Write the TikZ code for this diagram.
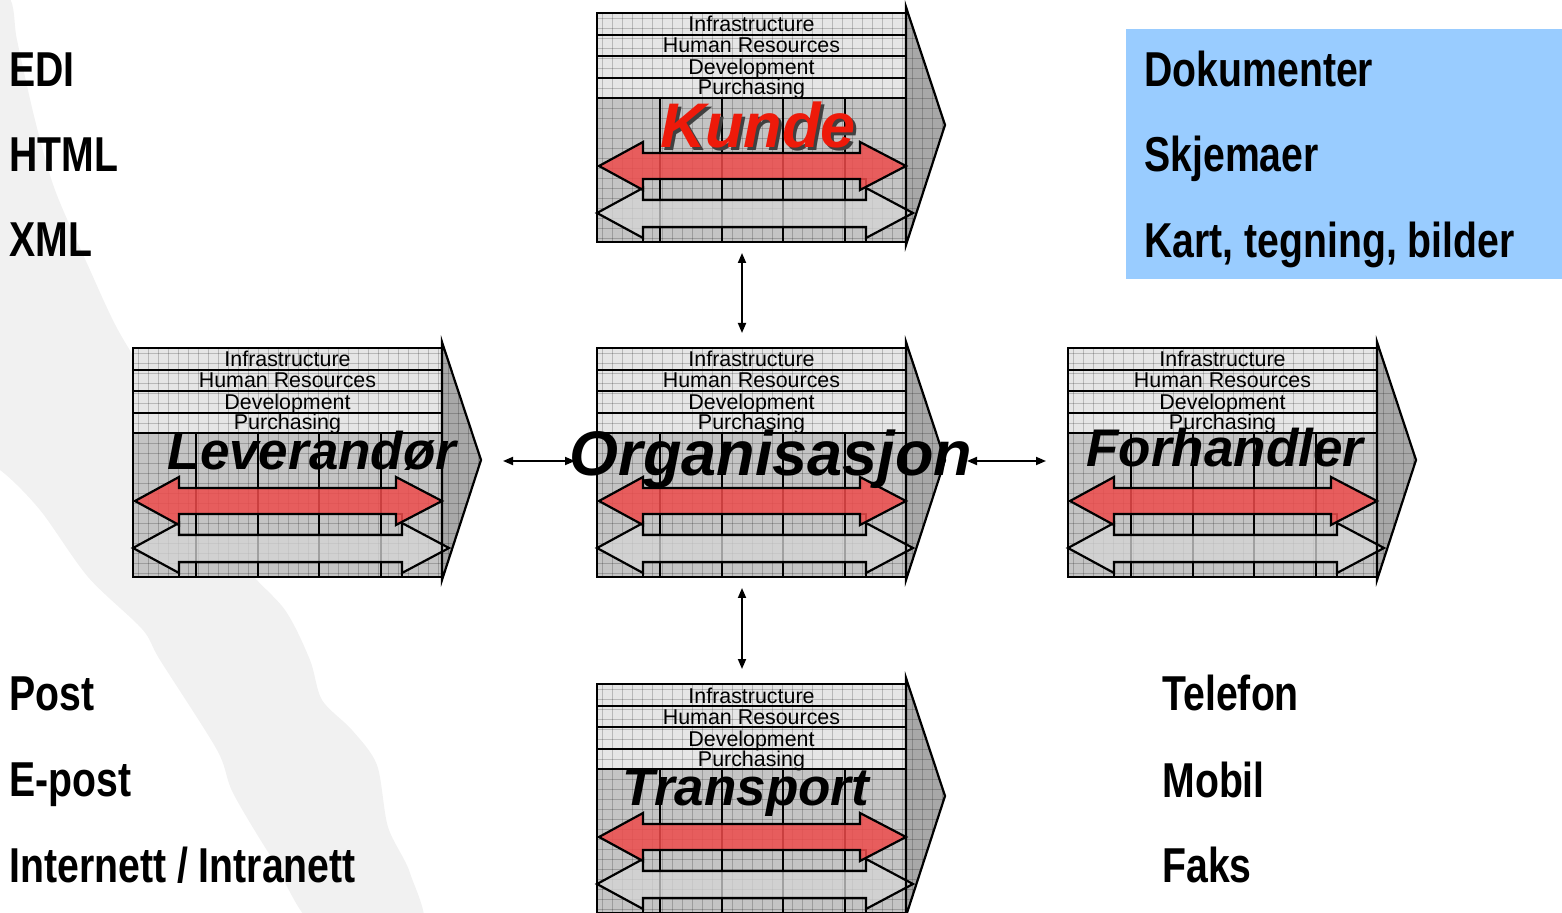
\documentclass[tikz,border=0pt]{standalone}
\usepackage{fontspec}
\setmainfont{Liberation Sans}
\newfontfamily\narrowfont[FakeStretch=0.8]{Liberation Sans}
\usetikzlibrary{arrows.meta}

\definecolor{blobgrey}{HTML}{F1F1F1}
\definecolor{rowgrey}{HTML}{E6E6E6}
\definecolor{bodygrey}{HTML}{C4C4C4}
\definecolor{chevgrey}{HTML}{A8A8A8}
\definecolor{arrowred}{HTML}{EE4B4B}
\definecolor{arrowgrey}{HTML}{D6D6D6}
\definecolor{boxblue}{HTML}{99CCFF}
\definecolor{titlered}{HTML}{EE1A0A}

% one value chain block, #1 name, (#2,#3) top left corner
\newcommand{\valuechain}[3]{%
	\begin{scope}[shift={(#2,#3)}]
		\fill[chevgrey] (309,-6) -- (348,112) -- (309,232) -- cycle;
		\fill[rowgrey] (0,0) rectangle (309,85);
		\fill[bodygrey] (0,85) rectangle (309,229);
		\begin{scope}
			\clip (0,0) -- (309,0) -- (309,-6) -- (348,112) -- (309,232) -- (309,229) -- (0,229) -- cycle;
			\foreach \gx in {5,15,...,345} \draw[gridline] (\gx,-6) -- (\gx,232);
			\foreach \gy in {5,15,...,225} \draw[gridline] (0,\gy) -- (348,\gy);
		\end{scope}
		% primary activities
		\foreach \vx in {63,125,186,248} \draw[vcline] (\vx,85) -- (\vx,229);
		\draw[vcline] (46,166) rectangle (269,187);
		\draw[vcline] (46,229) -- (46,214) -- (269,214) -- (269,229);
		\draw[vcline, fill=arrowgrey, fill opacity=.75] (0,200) -- (46,175) -- (46,187) -- (269,187) -- (269,175) -- (316,200) -- (269,225) -- (269,214) -- (46,214) -- (46,225) -- cycle;
		\draw[vcline, fill=arrowred, fill opacity=.85] (2,153) -- (46,129) -- (46,140) -- (263,140) -- (263,129) -- (309,153) -- (263,177) -- (263,166) -- (46,166) -- (46,177) -- cycle;
		% support activities
		\draw[vcline] (0,0) rectangle (309,229);
		\foreach \ry in {22,43,65,85} \draw[vcline] (0,\ry) -- (309,\ry);
		\draw[vcline] (309,-6) -- (348,112) -- (309,232) -- cycle;
		\node[rowtext] (#1-inf) at (154.5,19) {Infrastructure};
		\node[rowtext] (#1-hr)  at (154.5,40) {Human Resources};
		\node[rowtext] (#1-dev) at (154.5,62) {Development};
		\node[rowtext] (#1-pur) at (154.5,82) {Purchasing};
		\coordinate (#1-n) at (145,-15);
		\coordinate (#1-s) at (145,240);
		\coordinate (#1-w) at (-22,113);
		\coordinate (#1-e) at (370,113);
	\end{scope}}

\begin{document}
\begin{tikzpicture}
	[x=0.5pt, y=-0.5pt,
	gridline/.style		= {draw=black, opacity=.2, line width=.3pt},
	vcline/.style		= {draw=black, line width=1.1pt},
	rowtext/.style		= {anchor=base, inner sep=0pt, font=\fontsize{10.7}{12}\selectfont},
	listtext/.style		= {anchor=base west, inner sep=0pt, font=\narrowfont\bfseries\fontsize{24.5}{29}\selectfont},
	chaintitle/.style	= {anchor=base, inner sep=0pt, font=\bfseries\itshape\fontsize{#1}{#1}\selectfont},
	chaintitle/.default	= 26.5,
	link/.style			= {{Triangle[length=5pt,width=4pt]}-{Triangle[length=5pt,width=4pt]}, line width=.9pt}]

	\useasboundingbox (0,0) rectangle (1562,913);

	% background band
	\begin{scope}
		\clip (0,0) rectangle (1562,913);
		\fill[blobgrey] plot[smooth cycle] coordinates {(-40,-40) (8,-5) (17,40) (35,120) (55,190) (90,270) (118,330)
			(160,400) (200,480) (240,560) (285,610) (310,660) (322,700) (352,730) (377,765) (388,827) (410,873) (420,930)
			(320,930) (273,860) (233,793) (217,750) (160,660) (142,629) (88,577) (40,510) (0,470) (-40,450)};
	\end{scope}

	% document types
	\fill[boxblue] (1126,29) rectangle (1562,279);
	\node[listtext] (dok)   at (1144,87)  {Dokumenter};
	\node[listtext] (skj)   at (1144,172) {Skjemaer};
	\node[listtext] (kart)  at (1144,258) {Kart, tegning, bilder};

	\node[listtext] (edi)   at (9,87)  {EDI};
	\node[listtext] (html)  at (9,172) {HTML};
	\node[listtext] (xml)   at (9,257) {XML};

	\node[listtext] (post)  at (9,710) {Post};
	\node[listtext] (epost) at (9,796) {E-post};
	\node[listtext] (inet)  at (9,882) {Internett / Intranett};

	\node[listtext] (tlf)   at (1162,710) {Telefon};
	\node[listtext] (mob)   at (1162,797) {Mobil};
	\node[listtext] (faks)  at (1162,882) {Faks};

	% value chains
	\valuechain{kunde}{597}{13}
	\valuechain{org}{597}{348}
	\valuechain{lev}{133}{348}
	\valuechain{forh}{1068}{348}
	\valuechain{trans}{597}{684}

	\draw[link] (kunde-s) -- (org-n);
	\draw[link] (org-s) -- (trans-n);
	\draw[link] (lev-e) -- (org-w);
	\draw[link] (org-e) -- (forh-w);

	\node[chaintitle=31.5, black!75] (kunde-shade) at (761,151) {Kunde};
	\node[chaintitle=31.5, titlered] (kunde-title) at (758,148) {Kunde};
	\node[chaintitle=31.5] (org-title)   at (771,476) {Organisasjon};
	\node[chaintitle]      (lev-title)   at (312,470) {Leverandør};
	\node[chaintitle]      (forh-title)  at (1225,467) {Forhandler};
	\node[chaintitle]      (trans-title) at (746,805) {Transport};
\end{tikzpicture}
\end{document}
